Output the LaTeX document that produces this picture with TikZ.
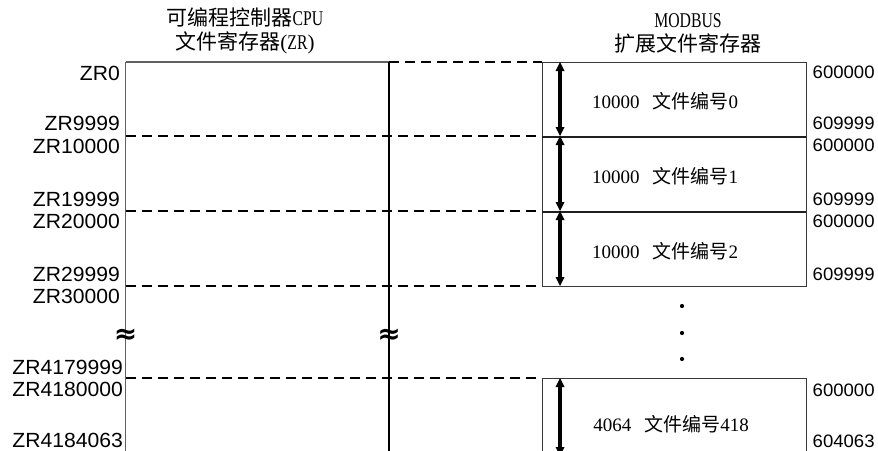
\documentclass[tikz,border=0pt]{standalone}
\usepackage{fontspec}
\setmainfont{Liberation Serif}
\newfontfamily\cjk{Noto Sans CJK SC}
\newfontfamily\lab[FakeStretch=1.03]{Liberation Sans}
\newfontfamily\narrow[FakeStretch=0.75]{Liberation Serif}
\newfontfamily\dvb{DejaVu Sans Bold}
\begin{document}
\begin{tikzpicture}[x=1pt,y=-1pt,
  gline/.style={draw=black!62, line width=1.3pt},
  midline/.style={draw=black, line width=1.5pt},
  dline/.style={draw=black, line width=1.6pt, dash pattern=on 10pt off 6pt},
  boxframe/.style={draw=black!78, line width=0.9pt, inner sep=0pt, minimum width=264pt},
  sepline/.style={draw=black!88, line width=1.6pt},
  shaft/.style={draw=black, line width=3.6pt, shorten <=6pt, shorten >=6pt},
  tiphead/.style={fill=black},
  llab/.style={font=\lab\fontsize{20.5}{21}\selectfont, anchor=east, inner sep=0pt},
  rlab/.style={font=\lab\fontsize{18}{18}\selectfont, anchor=west, inner sep=0pt},
  title/.style={font=\fontsize{21}{24}\selectfont, align=center, inner sep=0pt},
  boxtext/.style={font=\fontsize{19}{20}\selectfont, inner sep=0pt},
  brk/.style={font=\dvb\fontsize{28}{28}\selectfont, inner sep=0pt},
  dotmark/.style={circle, fill=black, inner sep=0pt, minimum size=4.2pt}
]
\useasboundingbox (0,0) rectangle (878,450);
\clip (0,0) rectangle (878,450);

% key coordinates
\coordinate (Ltop) at (125.5,62);
\coordinate (Lbot) at (125.5,460);
\coordinate (Mtop) at (389,62);
\coordinate (Mbot) at (389,460);
\coordinate (Btop) at (541.5,62);
\coordinate (d1L) at (125.5,136);  \coordinate (d1R) at (541.5,136);
\coordinate (d2L) at (125.5,211);  \coordinate (d2R) at (541.5,211);
\coordinate (d3L) at (125.5,286);  \coordinate (d3R) at (541.5,286);
\coordinate (d4L) at (125.5,378);  \coordinate (d4R) at (541.5,378);

% titles
\node[title] (t1) at (245,31) {{\cjk 可编程控制器}{\narrow CPU}\\{\cjk 文件寄存器}({\narrow ZR})};
\node[title] (t2) at (688,33) {{\narrow MODBUS}\\{\cjk 扩展文件寄存器}};

% MODBUS file boxes
\node[boxframe, anchor=north west, minimum height=74pt] (f0) at (541.5,62) {};
\node[boxframe, anchor=north west, minimum height=75pt] (f1) at (541.5,136) {};
\node[boxframe, anchor=north west, minimum height=75pt] (f2) at (541.5,211) {};
\node[boxframe, anchor=north west, minimum height=90pt] (f3) at (541.5,378) {};
\draw[sepline] (f0.south west) -- (f0.south east);
\draw[sepline] (f1.south west) -- (f1.south east);

% PLC side lines
\draw[gline] (Ltop) -- (Mtop);
\draw[gline] (Ltop) -- (Lbot);
\draw[midline] (Mtop) -- (Mbot);
\draw[dline] (Mtop) -- (Btop);
\draw[dline] (d1L) -- (d1R);
\draw[dline] (d2L) -- (d2R);
\draw[dline] (d3L) -- (d3R);
\draw[dline] (d4L) -- (d4R);

% dimension arrows (shaft + filled heads)
\coordinate (a0t) at (560,62);
\coordinate (a0b) at (560,136);
\coordinate (a1t) at (560,136);
\coordinate (a1b) at (560,211);
\coordinate (a2t) at (560,211);
\coordinate (a2b) at (560,286);
\coordinate (a3t) at (560,378);
\coordinate (a3b) at (560,456);
\foreach \t/\b in {a0t/a0b, a1t/a1b, a2t/a2b, a3t/a3b}{
  \draw[shaft] (\t) -- (\b);
  \fill[tiphead] (\t) -- ++(-4.5,9) -- ++(9,0) -- cycle;
  \fill[tiphead] (\b) -- ++(-4.5,-9) -- ++(9,0) -- cycle;
}

% box texts
\node[boxtext] (x0) at (665,101) {10000\hspace{13pt}{\cjk 文件编号}0};
\node[boxtext] (x1) at (665,176) {10000\hspace{13pt}{\cjk 文件编号}1};
\node[boxtext] (x2) at (665,251) {10000\hspace{13pt}{\cjk 文件编号}2};
\node[boxtext] (x3) at (671,424) {4064\hspace{13pt}{\cjk 文件编号}418};

% continuation dots
\node[dotmark] (p1) at (682,306) {};
\node[dotmark] (p2) at (682,333) {};
\node[dotmark] (p3) at (682,359) {};

% break marks
\node[brk] (b1) at (125.5,336) {≈};
\node[brk] (b2) at (389,336) {≈};

% left address labels
\node[llab] (z0) at (120,73.5) {ZR0};
\node[llab] (z1) at (120,123) {ZR9999};
\node[llab] (z2) at (120,146) {ZR10000};
\node[llab] (z3) at (120,199) {ZR19999};
\node[llab] (z4) at (120,221) {ZR20000};
\node[llab] (z5) at (120,274) {ZR29999};
\node[llab] (z6) at (120,296) {ZR30000};
\node[llab] (z7) at (123,367.5) {ZR4179999};
\node[llab] (z8) at (123,389) {ZR4180000};
\node[llab] (z9) at (123,440) {ZR4184063};

% right address labels
\node[rlab] (r0) at (812.5,72) {600000};
\node[rlab] (r1) at (812.5,123) {609999};
\node[rlab] (r2) at (812.5,145.5) {600000};
\node[rlab] (r3) at (812.5,199) {609999};
\node[rlab] (r4) at (812.5,221) {600000};
\node[rlab] (r5) at (812.5,274) {609999};
\node[rlab] (r6) at (812.5,390) {600000};
\node[rlab] (r7) at (812.5,441) {604063};
\end{tikzpicture}
\end{document}
